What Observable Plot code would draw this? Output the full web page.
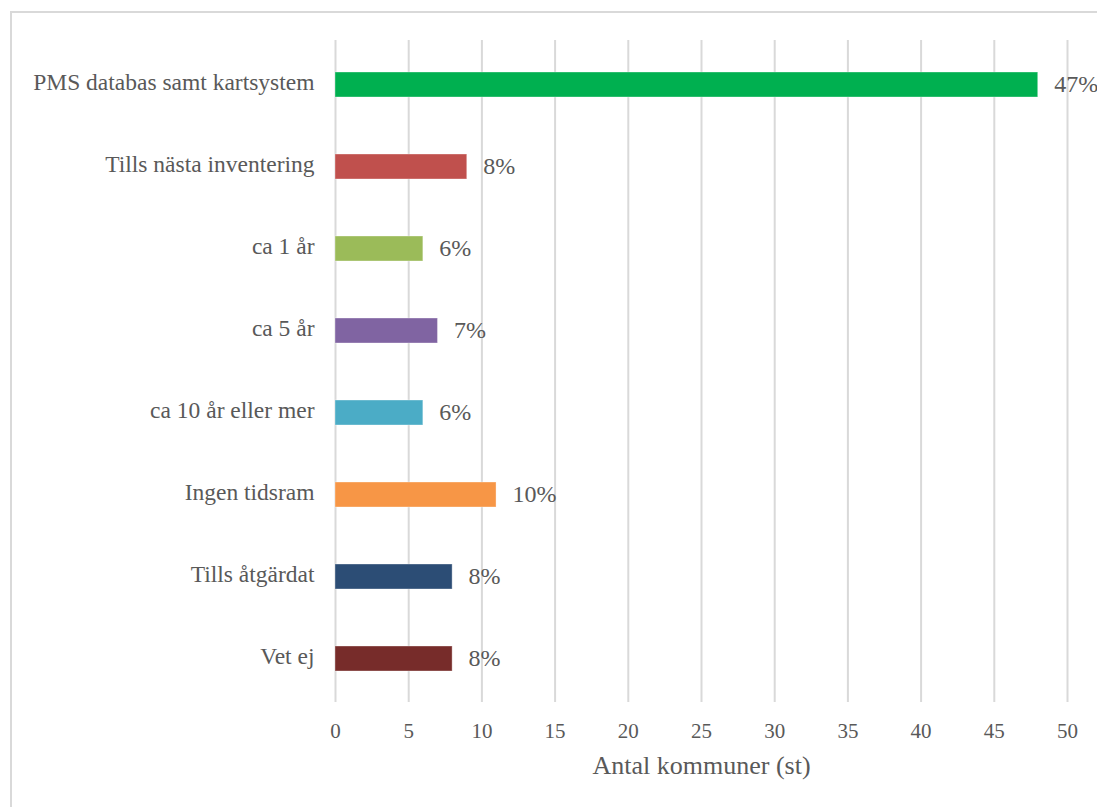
<!DOCTYPE html>
<html>
<head>
<meta charset="utf-8">
<script src="https://cdn.jsdelivr.net/npm/d3@7"></script>
<script src="https://cdn.jsdelivr.net/npm/@observablehq/plot@0.6"></script>
<style>
  html, body { margin: 0; padding: 0; background: #fff; }
  #wrap { position: relative; width: 1097px; height: 807px; overflow: hidden; }
  #box { position: absolute; left: 10px; top: 11px; width: 1200px; height: 900px;
         border-left: 2px solid #d9d9d9; border-top: 2px solid #d9d9d9; }
  #chart { position: absolute; left: 0; top: 0; }
  #chart svg, #chart svg text { font-family: "Liberation Serif", "Times New Roman", serif !important; }
</style>
</head>
<body>
<div id="wrap"><div id="box"></div><div id="chart"></div></div>
<script>
// Svar: hur länge data sparas / används
const categories = [
  "PMS databas samt kartsystem",
  "Tills nästa inventering",
  "ca 1 år",
  "ca 5 år",
  "ca 10 år eller mer",
  "Ingen tidsram",
  "Tills åtgärdat",
  "Vet ej"
];
const counts = [48, 9, 6, 7, 6, 11, 8, 8];
const shares = ["47%", "8%", "6%", "7%", "6%", "10%", "8%", "8%"];
const colors = ["#00b050", "#c0504d", "#9bbb59", "#8064a2", "#4bacc6", "#f79646", "#2c4d75", "#772c2a"];
const xTicks = [0, 5, 10, 15, 20, 25, 30, 35, 40, 45, 50];
const xTitle = "Antal kommuner (st)";

const rows = categories.map((c, i) => ({category: c, count: counts[i], share: shares[i], color: colors[i]}));

const textColor = "#595959";
const font = "'Liberation Serif', 'Times New Roman', serif";

const chart = Plot.plot({
  width: 1097,
  height: 807,
  marginLeft: 335,
  marginRight: 30,
  marginTop: 40,
  marginBottom: 105,
  style: {fontFamily: font, color: textColor, background: "transparent"},
  x: {domain: [0, 50], ticks: xTicks},
  y: {domain: categories, paddingInner: 0.7, paddingOuter: 0.35},
  marks: [
    Plot.gridX(xTicks, {stroke: "#d9d9d9", strokeOpacity: 1, strokeWidth: 2}),
    Plot.barX(rows, {x: "count", y: "category", fill: "color", stroke: "#ffffff", strokeOpacity: 0.35, strokeWidth: 1}),
    Plot.text(rows, {x: "count", y: "category", text: "share", textAnchor: "start", dx: 16, dy: -1,
                     fontSize: 24, fontFamily: font, fill: textColor}),
    Plot.axisY({tickSize: 0, tickPadding: 21, dy: -3, fontSize: 23.5, fontFamily: font, label: null, fill: textColor}),
    Plot.axisX({ticks: xTicks, tickSize: 0, tickPadding: 21, fontSize: 21, fontFamily: font, label: null, fill: textColor}),
    Plot.text([xTitle], {frameAnchor: "bottom", dy: 71, fontSize: 26, fontFamily: font, fill: textColor})
  ]
});
document.getElementById("chart").appendChild(chart);
</script>
</body>
</html>
